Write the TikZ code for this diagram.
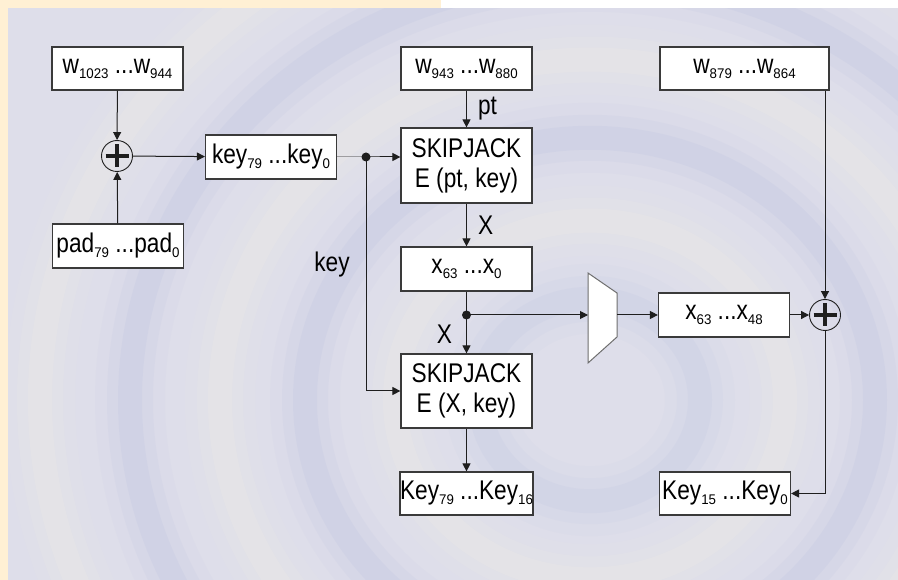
\documentclass[tikz,border=0pt]{standalone}
\usepackage{fontspec}
\setmainfont{Liberation Sans}[FakeStretch=0.84]
\newfontfamily\subfuente{Liberation Sans}[FakeStretch=0.95]
\usepackage{tikz}
\usetikzlibrary{arrows.meta}
\definecolor{Fondo}{HTML}{DEDEEA}
\definecolor{Onda}{HTML}{A9B3DC}
\definecolor{Crema}{HTML}{F8F3E2}
\definecolor{Marco}{HTML}{FFF0D4}
\definecolor{Borde}{HTML}{3A3A3A}
\definecolor{Linea}{HTML}{1E1E1E}
\definecolor{GrisMux}{HTML}{6E6E6E}
\newcommand{\ix}[1]{\raisebox{-5pt}{\subfuente\fontsize{14}{14}\selectfont #1}}

\begin{document}
\begin{tikzpicture}[x=1pt,y=-1pt,>={Triangle[length=8pt,width=8pt]},
  line width=1pt,draw=Linea,
  caja/.style={draw=Borde,fill=white,line width=1.2pt,inner sep=0pt,
    minimum width=131pt,minimum height=43pt,align=center,
    font=\fontsize{27}{30}\selectfont},
  xor/.style={draw=Linea,circle,minimum size=31pt,inner sep=0pt,line width=0.9pt,
    path picture={\draw[line width=3.2pt]
      ([yshift=-4pt]path picture bounding box.north)--([yshift=4pt]path picture bounding box.south)
      ([xshift=4pt]path picture bounding box.west)--([xshift=-4pt]path picture bounding box.east);}},
  etiq/.style={font=\fontsize{27}{30}\selectfont,inner sep=0pt}]
  \useasboundingbox (0,0) rectangle (898,580);

  % fondo con ondas
  \fill[Fondo] (8,8) rectangle (898,580);
  \begin{scope}
    \clip (8,8) rectangle (898,580);
    \foreach \r/\c/\f in {110/Onda/0.6,195/Crema/1,285/Onda/0.8,370/Crema/1,460/Onda/0.8,550/Crema/1}
      \foreach \w/\o in {70/0.07,46/0.11,24/0.15}
        \draw[\c,line width=\w pt,opacity=\f*\o] (590,400) circle[x radius=\r pt,y radius=0.92*\r pt];
  \end{scope}
  \fill[Marco] (0,0) rectangle (441,8);
  \fill[Marco] (0,0) rectangle (8,580);
  \fill[white] (441,0) rectangle (898,8);

  % rama izquierda: clave
  \node[caja] (w1) at (117.5,68.5) {w\ix{1023} ...w\ix{944}};
  \node[xor] (xl) at (117,156) {};
  \node[caja,minimum height=44pt] (pad) at (118,246) {pad\ix{79} ...pad\ix{0}};
  \node[caja,minimum height=44pt] (k) at (271,157) {key\ix{79} ...key\ix{0}};
  \coordinate (p1) at (366,157);
  \node[etiq] (lk) at (332,265) {key};

  % columna central: dos pasadas de SKIPJACK
  \node[caja] (w2) at (466.5,68.5) {w\ix{943} ...w\ix{880}};
  \node[caja,minimum height=75pt] (sj1) at (466.5,165.5) {SKIPJACK\\E (pt, key)};
  \node[caja,minimum height=44pt] (x0) at (466.5,269) {x\ix{63} ...x\ix{0}};
  \coordinate (p2) at (466.5,315);
  \node[caja,minimum height=74pt] (sj2) at (466.5,391) {SKIPJACK\\E (X, key)};
  \node[caja] (k16) at (466.5,493.5) {Key\ix{79} ...Key\ix{16}};

  % selector y rama derecha
  \draw[draw=GrisMux,fill=white,line width=1pt]
    (588,273) -- (617,293) -- (617,337) -- (588,363) -- cycle;
  \coordinate (mux-in) at (588,315);
  \coordinate (mux-out) at (617,315);
  \node[caja,minimum height=44pt] (x48) at (724,315) {x\ix{63} ...x\ix{48}};
  \node[xor] (xr) at (825,315) {};
  \node[caja,minimum width=169pt] (w3) at (744.5,68.5) {w\ix{879} ...w\ix{864}};
  \node[caja] (k0) at (725,493.5) {Key\ix{15} ...Key\ix{0}};

  % conexiones
  \draw[->] (w1) -- (xl);
  \draw[->] (pad) -- (xl);
  \draw[->] (xl) -- (k);
  \draw[->] (k) -- (p1) -- (sj1.west |- p1);
  \draw[->] (p1) |- (sj2.west);
  \fill[Linea] (p1) circle[radius=4.5pt];
  \draw[->] (w2) -- node[etiq,right=11pt] {pt} (sj1);
  \draw[->] (sj1) -- node[etiq,right=11pt] {X} (x0);
  \draw (x0) -- (p2);
  \draw[->] (p2) -- node[etiq,left=14pt] {X} (sj2);
  \draw[->] (p2) -- (mux-in);
  \fill[Linea] (p2) circle[radius=4.5pt];
  \draw[->] (mux-out) -- (x48);
  \draw[->] (x48) -- (xr);
  \draw[->] (xr.north |- w3.south) -- (xr);
  \draw[->] (xr) |- (k0);
  \draw[->] (sj2) -- (k16);
\end{tikzpicture}
\end{document}
